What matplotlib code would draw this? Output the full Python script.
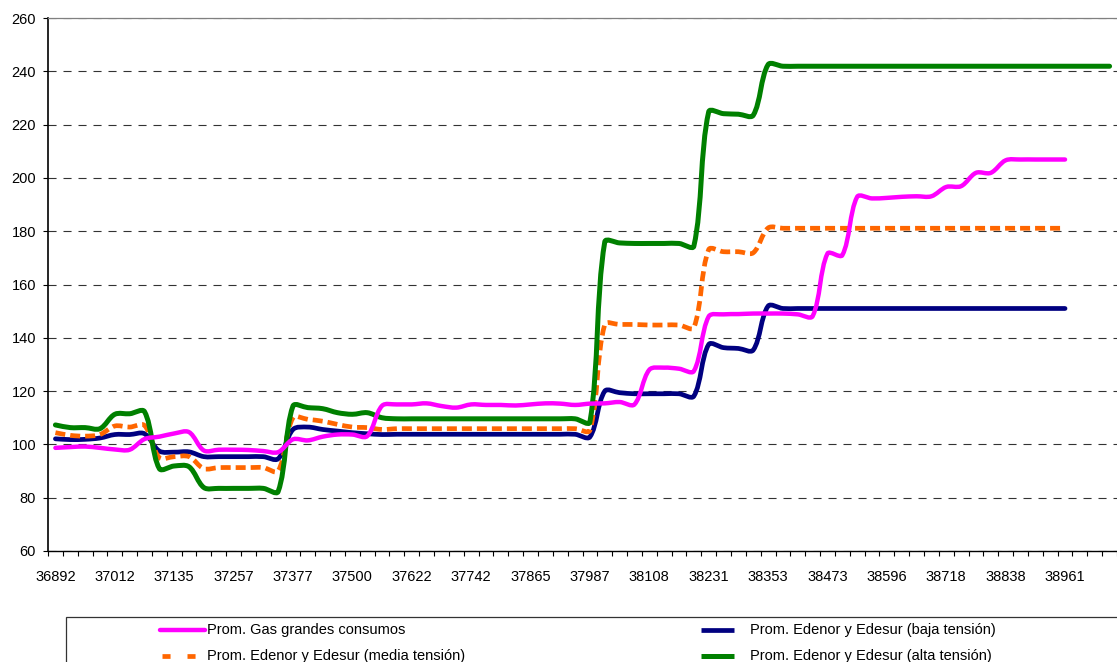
import numpy as np
import matplotlib
matplotlib.use("Agg")
import matplotlib.pyplot as plt
from matplotlib.path import Path
from matplotlib.patches import PathPatch, Rectangle
from matplotlib.lines import Line2D

plt.rcParams["font.family"] = ["Liberation Sans", "DejaVu Sans"]
plt.rcParams["lines.scale_dashes"] = False

# monthly index, Jan 2001 (Excel serial 36892) onwards; label every 4th month
tick_labels = ["36892", "37012", "37135", "37257", "37377", "37500", "37622",
               "37742", "37865", "37987", "38108", "38231", "38353", "38473",
               "38596", "38718", "38838", "38961"]

gas = [98.7, 99.0, 99.2, 98.7, 98.1, 98.0, 102.0, 102.9, 104.1, 104.6,
       97.7, 98.0, 98.0, 97.9, 97.5, 97.1, 101.9, 101.5, 102.9, 103.7,
       103.7, 103.1, 114.5, 115.0, 115.0, 115.4, 114.4, 113.8, 115.0, 114.8,
       114.8, 114.6, 115.0, 115.4, 115.3, 114.8, 115.3, 115.4, 115.9, 115.0,
       128.0, 128.8, 128.4, 127.5, 148.0, 148.8, 148.9, 149.1, 149.1, 149.1,
       148.8, 148.1, 171.6, 171.0, 192.9, 192.3, 192.5, 192.9, 193.1, 193.1,
       196.6, 196.9, 201.9, 201.9, 206.6, 206.9, 206.9, 206.9, 206.9]

baja = [102.1, 101.8, 101.9, 102.4, 103.7, 103.7, 104.0, 97.5, 97.1, 97.2,
        95.4, 95.4, 95.4, 95.4, 95.4, 94.6, 105.6, 106.5, 105.6, 105.0,
        104.4, 104.0, 103.7, 103.8, 103.8, 103.8, 103.8, 103.8, 103.8, 103.8,
        103.8, 103.8, 103.8, 103.8, 103.8, 103.8, 102.8, 120.0, 119.4, 119.0,
        119.0, 119.0, 119.0, 118.1, 137.5, 136.3, 136.0, 135.4, 151.9, 151.0,
        151.0, 151.0, 151.0, 151.0, 151.0, 151.0, 151.0, 151.0, 151.0, 151.0,
        151.0, 151.0, 151.0, 151.0, 151.0, 151.0, 151.0, 151.0, 151.0]

media = [104.4, 103.4, 103.1, 103.7, 106.9, 106.5, 107.1, 95.0, 95.4, 95.4,
         90.9, 91.3, 91.3, 91.3, 91.3, 90.0, 110.0, 109.4, 108.7, 107.5,
         106.5, 106.3, 105.6, 105.9, 105.9, 105.9, 105.9, 105.9, 105.9, 105.9,
         105.9, 105.9, 105.9, 105.9, 105.9, 105.9, 105.3, 145.0, 145.0, 145.0,
         144.8, 144.8, 144.8, 143.8, 173.1, 172.3, 172.3, 171.9, 181.2, 181.1,
         181.1, 181.1, 181.1, 181.1, 181.1, 181.1, 181.1, 181.1, 181.1, 181.1,
         181.1, 181.1, 181.1, 181.1, 181.1, 181.1, 181.1, 181.1, 181.1]

alta = [107.3, 106.3, 106.3, 105.9, 111.3, 111.5, 112.3, 90.9, 91.9, 91.6,
        83.8, 83.5, 83.5, 83.5, 83.5, 82.3, 114.4, 113.8, 113.4, 111.9,
        111.3, 111.9, 110.0, 109.6, 109.6, 109.6, 109.6, 109.6, 109.6, 109.6,
        109.6, 109.6, 109.6, 109.6, 109.6, 109.6, 108.4, 176.0, 175.6, 175.4,
        175.4, 175.4, 175.4, 174.4, 224.8, 224.1, 223.9, 223.5, 242.5, 241.9,
        241.9, 241.9, 241.9, 241.9, 241.9, 241.9, 241.9, 241.9, 241.9, 241.9,
        241.9, 241.9, 241.9, 241.9, 241.9, 241.9, 241.9, 241.9, 241.9, 241.9,
        241.9, 241.9]

W, H = 1117, 662
PX_PER_MONTH = 15.04
PX_PER_UNIT = (551 - 18) / 200.0


def smooth_path(values):
    # Excel-like smoothed line: Bezier control points weighted by the
    # on-screen length of neighbouring segments (gives the little hooks)
    pts = np.column_stack([np.arange(len(values)), values]).astype(float)
    scr = pts * [PX_PER_MONTH, PX_PER_UNIT]
    n = len(pts)

    def dist(a, b):
        return np.hypot(*(scr[a] - scr[b]))

    verts = [pts[0]]
    codes = [Path.MOVETO]
    for k in range(n - 1):
        a, b = max(k - 1, 0), min(k + 2, n - 1)
        d_prev, d_cur, d_next = dist(a, k), dist(k, k + 1), dist(k + 1, b)
        f1 = d_cur / (d_prev + d_cur) / 3.0
        f2 = d_cur / (d_cur + d_next) / 3.0
        c1 = pts[k] + (pts[k + 1] - pts[a]) * f1
        c2 = pts[k + 1] - (pts[b] - pts[k]) * f2
        verts += [c1, c2, pts[k + 1]]
        codes += [Path.CURVE4] * 3
    return Path(verts, codes)


fig = plt.figure(figsize=(W / 100, H / 100), dpi=100)
ax = fig.add_axes([48 / W, 1 - 551 / H, 1 - 48 / W, (551 - 18) / H])

series = [
    # values, label, colour, width, style, zorder
    (baja, "Prom. Edenor y Edesur (baja tensión)", "#000080", 3.4, "solid", 3),
    (media, "Prom. Edenor y Edesur (media tensión)", "#FF6600", 3.4, (0, (7.2, 3.6)), 4),
    (alta, "Prom. Edenor y Edesur (alta tensión)", "#008000", 3.6, "solid", 5),
    (gas, "Prom. Gas grandes consumos", "#FF00FF", 3.2, "solid", 6),
]

for vals, label, color, lw, ls, z in series:
    patch = PathPatch(smooth_path(vals), fill=False, edgecolor=color, lw=lw,
                      linestyle=ls, zorder=z,
                      capstyle="butt" if ls != "solid" else "round",
                      joinstyle="round")
    ax.add_patch(patch)

ax.set_xlim(-0.5, -0.5 + (W - 48) / PX_PER_MONTH)
ax.set_ylim(60, 260)
ax.set_yticks(np.arange(60, 261, 20))
ax.set_xticks(np.arange(0, 4 * len(tick_labels), 4))
ax.set_xticklabels(tick_labels)
ax.set_xticks(np.arange(-0.5, 72, 1), minor=True)
ax.tick_params(axis="x", which="major", length=0, pad=14, labelsize=10.5)
ax.tick_params(axis="x", which="minor", length=3.6, width=0.8, direction="out")
ax.tick_params(axis="y", length=3.6, width=0.8, pad=5, labelsize=10.5)

ax.grid(axis="y", color="#333333", lw=0.8, linestyle=(0, (5.8, 5.0)))
ax.set_axisbelow(True)
ax.spines["right"].set_visible(False)
ax.spines["top"].set_color("#808080")
ax.spines["top"].set_linewidth(0.9)
ax.spines["left"].set_linewidth(1.2)
ax.spines["bottom"].set_linewidth(1.0)

# legend box across the bottom, cut off by the figure edge like the original
fig.add_artist(Rectangle((66 / W, -0.1), (1200 - 66) / W, 0.1 + 1 - 617 / H,
                         transform=fig.transFigure, fill=False,
                         edgecolor="#333333", lw=0.9))

legend_slots = {
    "Prom. Gas grandes consumos": (160, 205, 207, 630),
    "Prom. Edenor y Edesur (baja tensión)": (701, 734, 750, 630),
    "Prom. Edenor y Edesur (media tensión)": (162, 204, 207, 656),
    "Prom. Edenor y Edesur (alta tensión)": (701, 734, 750, 656),
}
for vals, label, color, lw, ls, z in series:
    x0, x1, tx, ty = legend_slots[label]
    hs = (0, (5.8, 12.2)) if ls != "solid" else "solid"
    fig.add_artist(Line2D([x0 / W, x1 / W], [1 - ty / H, 1 - ty / H],
                          transform=fig.transFigure, color=color, lw=lw,
                          linestyle=hs,
                          solid_capstyle="round" if label.startswith("Prom. Gas") else "butt",
                          dash_capstyle="butt"))
    fig.text(tx / W, 1 - ty / H, label, fontsize=10.5, va="center", ha="left")

fig.savefig("out.png", dpi=100)
